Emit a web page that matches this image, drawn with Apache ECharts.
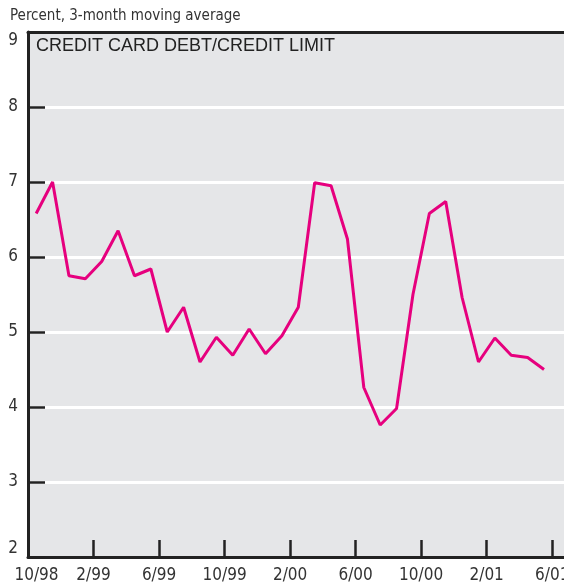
<!DOCTYPE html>
<html><head><meta charset="utf-8">
<script src="https://cdn.jsdelivr.net/npm/echarts@6/dist/echarts.min.js"></script>
<style>html,body{margin:0;padding:0;background:#fff}#c{width:564px;height:584px}</style>
</head><body><div id="c"></div>
<script>
// Monthly values, Nov 1998 .. Jun 2001 (plotted mid-month)
const months = ['11/98','12/98','1/99','2/99','3/99','4/99','5/99','6/99','7/99','8/99','9/99','10/99','11/99','12/99','1/00','2/00','3/00','4/00','5/00','6/00','7/00','8/00','9/00','10/00','11/00','12/00','1/01','2/01','3/01','4/01','5/01','6/01'];
const values = [6.58,7.0,5.75,5.71,5.94,6.35,5.75,5.84,5.0,5.33,4.60,4.93,4.69,5.04,4.71,4.95,5.33,6.99,6.95,6.24,4.26,3.76,3.98,5.50,6.58,6.74,5.46,4.60,4.92,4.69,4.66,4.50];
const tickLabels = ['10/98','2/99','6/99','10/99','2/00','6/00','10/00','2/01','6/01'];
const yTicks = [2,3,4,5,6,7,8,9];

const FONT = '"DejaVu Sans Condensed","Liberation Sans Narrow","Liberation Sans",sans-serif';
const data = values.map((v,i)=>[i+0.5, v]);
const labelPos = tickLabels.map((t,i)=>i*4);

const chart = echarts.init(document.getElementById('c'), null, {renderer:'canvas'});
chart.setOption({
  animation:false,
  backgroundColor:'#fff',
  title:[
    {text:'Percent, 3-month moving average', left:10, top:9, padding:0,
     textStyle:{fontFamily:FONT, fontSize:15, fontWeight:'normal', color:'#333'}},
    {text:'CREDIT CARD DEBT/CREDIT LIMIT', left:36, top:37, padding:0,
     textStyle:{fontFamily:'"Liberation Sans",Arial,sans-serif', fontSize:18, fontWeight:'normal', color:'#222'}}
  ],
  grid:{left:28, right:0, top:32, bottom:27, show:true, backgroundColor:'#e5e6e8', borderWidth:0, outerBoundsMode:'none', containLabel:false},
  xAxis:[{
    type:'value', min:0, max:32.72, interval:4,
    axisLine:{show:true, lineStyle:{color:'#222', width:3}},
    axisTick:{show:true, inside:true, length:17, customValues:[4,8,12,16,20,24,28,32], lineStyle:{color:'#222', width:2.5}},
    axisLabel:{show:true, customValues:labelPos, margin:10,
      fontFamily:FONT, fontSize:17, color:'#333',
      formatter:(v)=>{const i=Math.round(v/4); return i===0 ? '{f|'+tickLabels[i]+'}' : tickLabels[i];},
      rich:{f:{fontFamily:FONT, fontSize:17, color:'#333', padding:[0,0,0,17]}}},
    splitLine:{show:false}
  },{
    type:'value', position:'top', min:0, max:32.72,
    axisLine:{show:true, lineStyle:{color:'#222', width:3}},
    axisTick:{show:false}, axisLabel:{show:false}, splitLine:{show:false}
  }],
  yAxis:{
    type:'value', min:2, max:9, interval:1,
    axisLine:{show:true, lineStyle:{color:'#222', width:3}},
    axisTick:{show:true, inside:true, length:17, lineStyle:{color:'#222', width:2.5}},
    axisLabel:{margin:10, fontFamily:FONT, fontSize:17, color:'#333',
      verticalAlignMinLabel:'bottom', verticalAlignMaxLabel:'top',
      formatter:(v)=>String(v)},
    splitLine:{show:true, lineStyle:{color:'#ffffff', width:3}}
  },
  series:[{
    type:'line', data:data, xAxisIndex:0, symbol:'none',
    lineStyle:{color:'#e6007e', width:3}, z:5
  }]
});
</script></body></html>
